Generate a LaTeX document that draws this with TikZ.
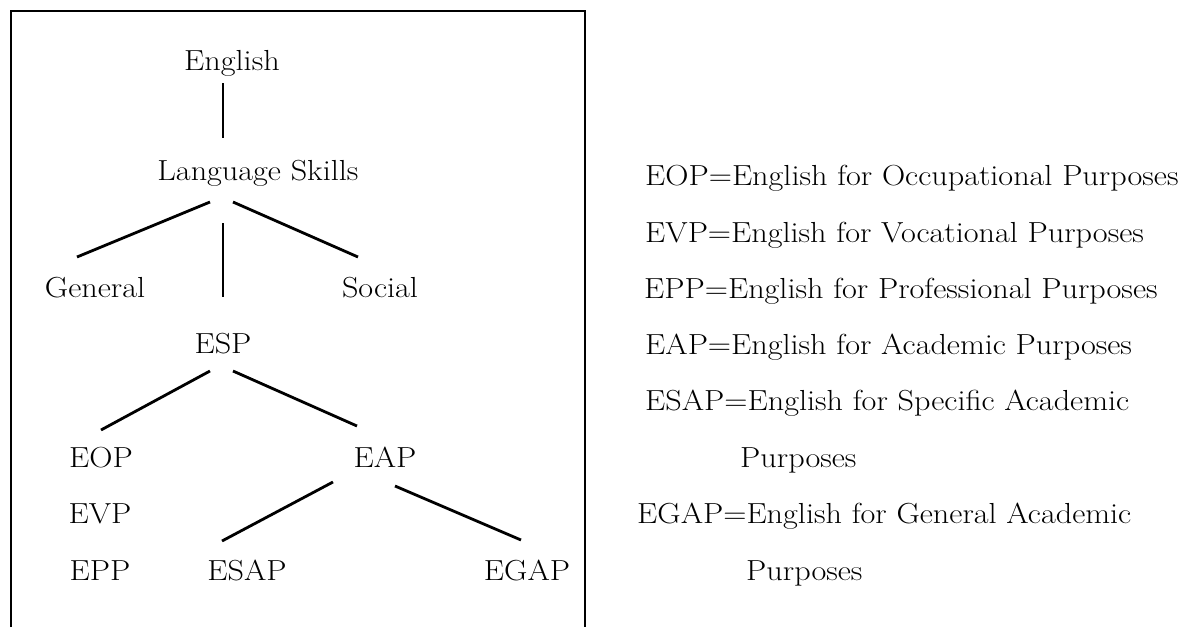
\documentclass[tikz,border=0pt]{standalone}
\usetikzlibrary{calc}
\tikzset{T/.style={font=\fontsize{29}{33}\selectfont, inner sep=0pt, anchor=base,
    xscale=1.11, transform shape}}
\tikzset{K/.style={T, anchor=base west}}
\tikzset{L/.style={draw, line width=2.8pt}}

\begin{document}
\begin{tikzpicture}[x=1pt, y=-1pt]
  \useasboundingbox (0,0) rectangle (1182,627);

  %% frame round the tree, open at the bottom
  \draw[line width=2.8pt] (11,627) -- (11,11) -- (585,11) -- (585,627);

  %% the tree
  \node[T] (eng)  at (232,70)  {English};
  \node[T] (ls)   at (258,180) {Language Skills};
  \node[T] (gen)  at (95,297)  {General};
  \node[T] (soc)  at (380,297) {Social};
  \node[T] (esp)  at (223,353) {ESP};
  \node[T] (eop)  at (101,467) {EOP};
  \node[T] (eap)  at (385,467) {EAP};
  \node[T] (evp)  at (100,523) {EVP};
  \node[T] (epp)  at (100,580) {EPP};
  \node[T] (esap) at (247,580) {ESAP};
  \node[T] (egap) at (527,580) {EGAP};

  \draw[L] ($(eng.base)+(-9,13)$)  -- ($(ls.base)+(-35,-42)$);
  \draw[L] ($(ls.base)+(-48,22)$)  -- ($(gen.base)+(-18,-40)$);
  \draw[L] ($(ls.base)+(-35,43)$)  -- ($(esp.base)+(0,-56)$);
  \draw[L] ($(ls.base)+(-25,22)$)  -- ($(soc.base)+(-22,-40)$);
  \draw[L] ($(esp.base)+(-13,18)$) -- ($(eop.base)+(0,-37)$);
  \draw[L] ($(esp.base)+(10,18)$)  -- ($(eap.base)+(-28,-41)$);
  \draw[L] ($(eap.base)+(-52,15)$) -- ($(esap.base)+(-25,-39)$);
  \draw[L] ($(eap.base)+(10,19)$)  -- ($(egap.base)+(-6,-40)$);

  %% the key
  \node[K] (k1) at (645,185) {EOP=English for Occupational Purposes};
  \node[K] (k2) at (645,242) {EVP=English for Vocational Purposes};
  \node[K] (k3) at (644,298) {EPP=English for Professional Purposes};
  \node[K] (k4) at (645,354) {EAP=English for Academic Purposes};
  \node[K] (k5) at (645,410) {ESAP=English for Specific Academic};
  \node[K] (k6) at (740,467) {Purposes};
  \node[K] (k7) at (637,523) {EGAP=English for General Academic};
  \node[K] (k8) at (746,580) {Purposes};

\end{tikzpicture}
\end{document}
